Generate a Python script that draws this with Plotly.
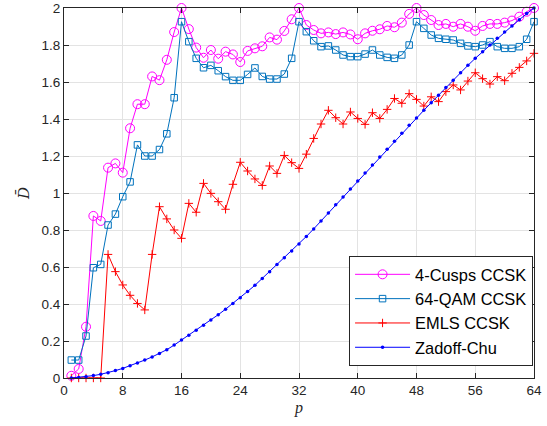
import plotly.graph_objects as go

p = list(range(1, 65))

cusps4 = [0.012, 0.049, 0.277, 0.876, 0.849, 1.137, 1.16, 1.11, 1.35, 1.48, 1.48, 1.63, 1.61, 1.72, 1.87, 2.0,
          1.886, 1.786, 1.731, 1.773, 1.726, 1.764, 1.749, 1.708, 1.768, 1.782, 1.793, 1.841, 1.829, 1.876, 1.939, 2.0,
          1.908, 1.881, 1.863, 1.868, 1.859, 1.868, 1.857, 1.831, 1.863, 1.877, 1.885, 1.903, 1.896, 1.921, 1.968, 2.0,
          1.962, 1.935, 1.908, 1.914, 1.899, 1.914, 1.899, 1.877, 1.903, 1.914, 1.914, 1.921, 1.932, 1.953, 1.98, 2.0]

qam64 = [0.097, 0.097, 0.227, 0.596, 0.614, 0.827, 0.886, 0.98, 1.06, 1.26, 1.20, 1.20, 1.235, 1.32, 1.515, 1.926,
         1.818, 1.728, 1.677, 1.69, 1.661, 1.629, 1.609, 1.609, 1.641, 1.676, 1.63, 1.616, 1.616, 1.643, 1.728, 1.926,
         1.872, 1.823, 1.791, 1.795, 1.773, 1.746, 1.737, 1.737, 1.751, 1.773, 1.746, 1.733, 1.728, 1.746, 1.80, 1.926,
         1.89, 1.854, 1.836, 1.831, 1.827, 1.809, 1.795, 1.791, 1.80, 1.818, 1.791, 1.782, 1.782, 1.791, 1.831, 1.926]

emls = [0.0, 0.0, 0.0, 0.0, 0.0, 0.668, 0.575, 0.503, 0.447, 0.403, 0.368, 0.668, 0.926, 0.86, 0.80, 0.755,
        0.944, 0.896, 1.052, 0.998, 0.953, 0.912, 1.047, 1.166, 1.119, 1.076, 1.041, 1.146, 1.106, 1.203, 1.164, 1.133,
        1.21, 1.295, 1.373, 1.447, 1.407, 1.373, 1.438, 1.403, 1.371, 1.434, 1.403, 1.452, 1.511, 1.485, 1.537, 1.506,
        1.47, 1.52, 1.494, 1.548, 1.584, 1.557, 1.605, 1.65, 1.618, 1.589, 1.629, 1.607, 1.647, 1.679, 1.714, 1.755]

zadoff = [0.000, 0.003, 0.007, 0.013, 0.020, 0.029, 0.040, 0.052, 0.066, 0.081, 0.097, 0.114, 0.133, 0.153, 0.178, 0.205,
          0.231, 0.258, 0.285, 0.313, 0.342, 0.372, 0.403, 0.434, 0.468, 0.501, 0.538, 0.575, 0.613, 0.650, 0.687, 0.724,
          0.765, 0.806, 0.849, 0.892, 0.936, 0.979, 1.022, 1.065, 1.108, 1.151, 1.194, 1.237, 1.280, 1.323, 1.366, 1.405,
          1.447, 1.488, 1.529, 1.570, 1.610, 1.650, 1.690, 1.728, 1.764, 1.800, 1.836, 1.870, 1.903, 1.937, 1.970, 2.000]

x_ticks = [0, 8, 16, 24, 32, 40, 48, 56, 64]
x_labels = ["0", "8", "16", "24", "32", "40", "48", "56", "64"]
y_ticks = [0, 0.2, 0.4, 0.6, 0.8, 1.0, 1.2, 1.4, 1.6, 1.8, 2.0]
y_labels = ["0", "0.2", "0.4", "0.6", "0.8", "1", "1.2", "1.4", "1.6", "1.8", "2"]

names = ["4-Cusps CCSK", "64-QAM CCSK", "EMLS CCSK", "Zadoff-Chu"]

fig = go.Figure()
fig.add_trace(go.Scatter(x=p, y=cusps4, name=names[0], mode="lines+markers", cliponaxis=False,
                         line=dict(color="#ff00ff", width=1),
                         marker=dict(symbol="circle-open", size=9, color="#ff00ff", line=dict(width=1))))
fig.add_trace(go.Scatter(x=p, y=qam64, name=names[1], mode="lines+markers", cliponaxis=False,
                         line=dict(color="#0072bd", width=1),
                         marker=dict(symbol="square-open", size=6.5, color="#0072bd", line=dict(width=1))))
fig.add_trace(go.Scatter(x=p, y=emls, name=names[2], mode="lines+markers", cliponaxis=False,
                         line=dict(color="#ff0000", width=1),
                         marker=dict(symbol="cross-thin-open", size=6, color="#ff0000", line=dict(width=1, color="#ff0000"))))
fig.add_trace(go.Scatter(x=p, y=zadoff, name=names[3], mode="lines+markers", cliponaxis=False,
                         line=dict(color="#0000ff", width=1),
                         marker=dict(symbol="circle", size=3.5, color="#0000ff")))

axcol = "#262626"
fig.update_layout(
    width=547, height=426,
    margin=dict(l=64, r=13, t=8, b=48),
    paper_bgcolor="white", plot_bgcolor="white",
    font=dict(family="Liberation Sans, Arial, sans-serif", size=13.5, color=axcol),
    showlegend=True,
    legend=dict(x=0.998, y=0.032, xanchor="right", yanchor="bottom",
                bgcolor="white", bordercolor=axcol, borderwidth=1, itemwidth=55,
                font=dict(size=16.4, color="black"), tracegroupgap=0),
    xaxis=dict(range=[0, 64], tickvals=x_ticks, ticktext=x_labels, showgrid=True, gridcolor="#e3e3e3",
               zeroline=False, showline=True, linecolor=axcol, linewidth=1, mirror="ticks",
               ticks="inside", ticklen=5, tickcolor=axcol, automargin=False,
               title=dict(text="<i>p</i>", font=dict(family="Liberation Serif, serif", size=16, color=axcol), standoff=4)),
    yaxis=dict(range=[0, 2], tickvals=y_ticks, ticktext=y_labels, showgrid=True, gridcolor="#e3e3e3",
               zeroline=False, showline=True, linecolor=axcol, linewidth=1, mirror="ticks",
               ticks="inside", ticklen=5, tickcolor=axcol, automargin=False,
               title=dict(text="<i>D\u0304</i>", font=dict(family="DejaVu Serif, serif", size=15, color=axcol), standoff=8)),
)

fig.write_html("out.html")
